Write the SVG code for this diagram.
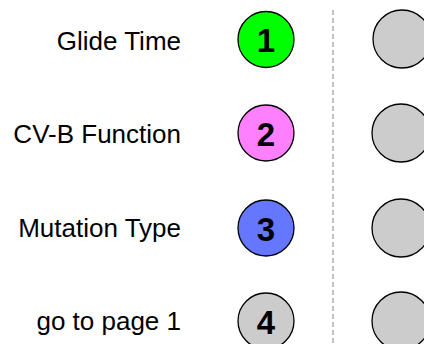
<svg xmlns="http://www.w3.org/2000/svg" width="424" height="344" viewBox="0 0 424 344">
<style>
.lbl{font-family:"Liberation Sans",Arial,sans-serif;font-size:26px;fill:#000;text-anchor:end}
.num{font-family:"Liberation Sans",Arial,sans-serif;font-size:33px;font-weight:bold;fill:#000;text-anchor:middle}
.c{stroke:#000;stroke-width:1.3}
.g{fill:#cccccc;stroke:#000;stroke-width:1.3}
.sep{stroke:#c4c4c4;stroke-width:2;stroke-dasharray:5 3;fill:none}
</style>
<rect width="424" height="344" fill="#fff"/>
<g id="connectors">
<line class="sep" x1="333" y1="10" x2="333" y2="344"/>
</g>
<g id="row1">
<text class="lbl" x="181" y="50">Glide Time</text>
<circle class="c" cx="266" cy="39.5" r="28" fill="#00ff00"/>
<text class="num" x="266" y="52">1</text>
<circle class="g" cx="402" cy="39" r="29"/>
</g>
<g id="row2">
<text class="lbl" x="181" y="143">CV-B Function</text>
<circle class="c" cx="266" cy="133" r="28" fill="#ff80ff"/>
<text class="num" x="266" y="145.5">2</text>
<circle class="g" cx="401" cy="133" r="29"/>
</g>
<g id="row3">
<text class="lbl" x="181" y="237">Mutation Type</text>
<circle class="c" cx="266" cy="228" r="28" fill="#6677ff"/>
<text class="num" x="266" y="240.5">3</text>
<circle class="g" cx="401" cy="228" r="29"/>
</g>
<g id="row4">
<text class="lbl" x="181" y="330">go to page 1</text>
<circle class="c" cx="266" cy="321" r="28" fill="#cccccc"/>
<text class="num" x="266" y="333.5">4</text>
<circle class="g" cx="401" cy="321" r="29"/>
</g>
</svg>
